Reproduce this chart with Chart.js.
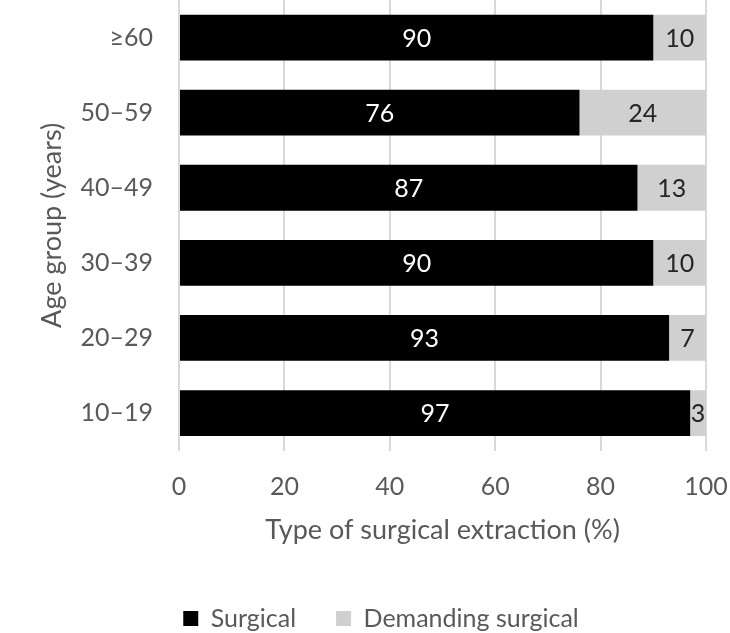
<!DOCTYPE html>
<html>
<head>
<meta charset="utf-8">
<script src="https://cdn.jsdelivr.net/npm/chart.js@4/dist/chart.umd.min.js"></script>
<style>
html,body{margin:0;padding:0;background:#fff;}
#wrap{width:730px;height:633px;}
</style>
</head>
<body>
<div id="wrap"><canvas id="c" width="730" height="633"></canvas></div>
<script>
const categories = ['≥60', '50–59', '40–49', '30–39', '20–29', '10–19'];
const surgical = [90, 76, 87, 90, 93, 97];
const demanding = [10, 24, 13, 10, 7, 3];
const xTicks = [0, 20, 40, 60, 80, 100];

const textGrey = '#595959';
const fontFamily = 'Lato, "Open Sans", sans-serif';

const labelPlugin = {
  id: 'segLabels',
  afterDatasetsDraw(chart) {
    const ctx = chart.ctx;
    ctx.save();
    ctx.font = '25px ' + fontFamily;
    ctx.textAlign = 'center';
    ctx.textBaseline = 'middle';
    chart.data.datasets.forEach((ds, di) => {
      const meta = chart.getDatasetMeta(di);
      meta.data.forEach((el, i) => {
        const cx = (el.x + el.base) / 2;
        ctx.fillStyle = di === 0 ? '#ffffff' : '#262626';
        ctx.fillText(String(ds.data[i]), cx, el.y + 1);
      });
    });
    ctx.restore();
  }
};

new Chart(document.getElementById('c'), {
  type: 'bar',
  data: {
    labels: categories,
    datasets: [
      { label: 'Surgical', data: surgical, backgroundColor: '#000000', borderWidth: 0 },
      { label: 'Demanding surgical', data: demanding, backgroundColor: '#d0d0d0', borderWidth: 0 }
    ]
  },
  options: {
    indexAxis: 'y',
    responsive: false,
    animation: false,
    layout: { padding: { left: 32, right: 0, top: 0, bottom: -8 } },
    datasets: { bar: { categoryPercentage: 1.0, barPercentage: 0.61 } },
    scales: {
      x: {
        stacked: true,
        min: 0, max: 100,
        afterBuildTicks(scale) { scale.ticks = xTicks.map(v => ({ value: v })); },
        afterFit(scale) { scale.paddingRight = 24; scale.paddingLeft = 0; },
        grid: { color: '#d9d9d9', lineWidth: 2, drawTicks: false },
        border: { display: false },
        ticks: { color: textGrey, font: { size: 25, family: fontFamily }, padding: 21 },
        title: { display: true, text: 'Type of surgical extraction (%)', color: textGrey,
                 font: { size: 27, family: fontFamily }, padding: { top: -9, bottom: 20 } }
      },
      y: {
        stacked: true,
        afterFit(scale) { scale.width = 147; scale.paddingTop = 0; scale.paddingBottom = 0; },
        grid: { display: false, drawTicks: false },
        border: { display: false },
        ticks: { color: textGrey, font: { size: 25, family: fontFamily }, padding: 26 },
        title: { display: true, text: 'Age group (years)', color: textGrey,
                 font: { size: 27, family: fontFamily }, padding: { top: 4, bottom: 4 } }
      }
    },
    plugins: {
      legend: {
        position: 'bottom',
        labels: { color: textGrey, font: { size: 25, family: fontFamily },
                  boxWidth: 15, boxHeight: 15, padding: 40 }
      },
      tooltip: { enabled: false }
    }
  },
  plugins: [labelPlugin]
});
</script>
</body>
</html>
